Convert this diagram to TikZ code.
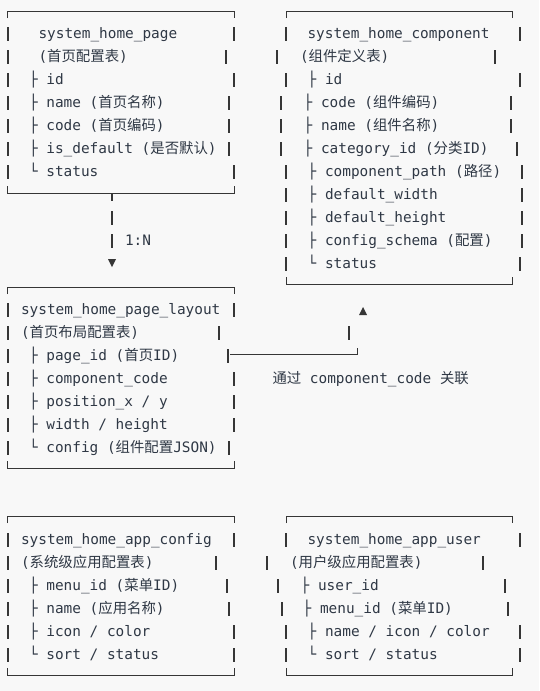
\documentclass[tikz,border=0pt]{standalone}
\usepackage{fontspec}
\usepackage{xcolor}
\usepackage{tikz}
\usetikzlibrary{arrows.meta, positioning, calc}
\setmonofont{DejaVu Sans Mono}
\newfontfamily\zhfont{Noto Sans CJK SC}
\newcommand{\zh}[1]{{\zhfont #1}}
\definecolor{paper}{HTML}{F8F8F8}
\definecolor{ink}{HTML}{2F3845}
\definecolor{rule}{HTML}{363636}

\tikzset{
  field/.style={anchor=base west, inner sep=0pt, outer sep=0pt, text=ink},
  frame/.style={rule, line width=0.9pt},
  bar/.style={rule, line width=1.2pt},
}

\begin{document}
\begin{tikzpicture}[x=1pt, y=-1pt, font=\ttfamily\fontsize{14.4}{17}\selectfont]
  \fill[paper] (0,0) rectangle (539,691);
  \useasboundingbox (0,0) rectangle (539,691);

  % system_home_page
  \draw[frame] (7,18) |- (234,11) -- (234,18);
  \draw[frame] (7,186) |- (234,193) -- (234,186);
  \node[field] (hp-name) at (38.5,38) {system\_home\_page};
  \node[field] (hp-cn) at (38.5,61) {(\zh{首页配置表})};
  \node[field] (hp-id) at (29,84) {├ id};
  \node[field] (hp-nm) at (29,107) {├ name (\zh{首页名称})};
  \node[field] (hp-code) at (29,130) {├ code (\zh{首页编码})};
  \node[field] (hp-def) at (29,153) {├ is\_default (\zh{是否默认})};
  \node[field] (hp-st) at (29,176) {└ status};

  % system_home_component
  \draw[frame] (286,18) |- (512,11) -- (512,18);
  \draw[frame] (286,277) |- (512,284) -- (512,277);
  \node[field] (hc-name) at (307.5,38) {system\_home\_component};
  \node[field] (hc-cn) at (300,61) {(\zh{组件定义表})};
  \node[field] (hc-id) at (307.7,84) {├ id};
  \node[field] (hc-code) at (303.7,107) {├ code (\zh{组件编码})};
  \node[field] (hc-nm) at (303.7,130) {├ name (\zh{组件名称})};
  \node[field] (hc-cat) at (303.7,153) {├ category\_id (\zh{分类}ID)};
  \node[field] (hc-path) at (307.7,176) {├ component\_path (\zh{路径})};
  \node[field] (hc-w) at (307.7,199) {├ default\_width};
  \node[field] (hc-h) at (307.7,222) {├ default\_height};
  \node[field] (hc-cfg) at (307.7,245) {├ config\_schema (\zh{配置})};
  \node[field] (hc-st) at (307.7,268) {└ status};

  % system_home_page_layout
  \draw[frame] (7,294) |- (234,287) -- (234,294);
  \draw[frame] (7,461) |- (234,468) -- (234,461);
  \node[field] (lay-name) at (21,314) {system\_home\_page\_layout};
  \node[field] (lay-cn) at (21,337) {(\zh{首页布局配置表})};
  \node[field] (lay-pid) at (29,360) {├ page\_id (\zh{首页}ID)};
  \node[field] (lay-cc) at (29,383) {├ component\_code};
  \node[field] (lay-pos) at (29,406) {├ position\_x / y};
  \node[field] (lay-wh) at (29,429) {├ width / height};
  \node[field] (lay-cfg) at (29,452) {└ config (\zh{组件配置}JSON)};

  % system_home_app_config
  \draw[frame] (7,523) |- (234,516) -- (234,523);
  \draw[frame] (7,668) |- (234,675) -- (234,668);
  \node[field] (ac-name) at (21,544) {system\_home\_app\_config};
  \node[field] (ac-cn) at (21,567) {(\zh{系统级应用配置表})};
  \node[field] (ac-menu) at (29,590) {├ menu\_id (\zh{菜单}ID)};
  \node[field] (ac-nm) at (29,613) {├ name (\zh{应用名称})};
  \node[field] (ac-ic) at (29,636) {├ icon / color};
  \node[field] (ac-st) at (29,659) {└ sort / status};

  % system_home_app_user
  \draw[frame] (286,523) |- (512,516) -- (512,523);
  \draw[frame] (286,668) |- (512,675) -- (512,668);
  \node[field] (au-name) at (307.5,544) {system\_home\_app\_user};
  \node[field] (au-cn) at (290,567) {(\zh{用户级应用配置表})};
  \node[field] (au-uid) at (300.7,590) {├ user\_id};
  \node[field] (au-menu) at (302.7,613) {├ menu\_id (\zh{菜单}ID)};
  \node[field] (au-nic) at (307.7,636) {├ name / icon / color};
  \node[field] (au-st) at (307.7,659) {└ sort / status};

  % 竖线（错位照原样）
  \foreach \x/\y in {8/33,234/33, 8/56,226/56, 8/79,234/79, 8/102,229/102,
      8/125,229/125, 8/148,229/148, 8/171,234/171,
      286/33,520/33, 277/56,495/56, 286/79,520/79, 281/102,511/102,
      281/125,511/125, 281/148,517/148, 286/171,522/171, 286/194,522/194,
      286/217,522/217, 286/240,522/240, 286/263,520/263,
      8/309,234/309, 8/332,219/332, 8/355,228/355, 8/378,234/378,
      8/401,234/401, 8/424,234/424, 8/447,229/447,
      8/539,234/539, 8/562,216/562, 8/585,227/585, 8/608,229/608,
      8/631,234/631, 8/654,234/654,
      286/539,520/539, 267/562,483/562, 278/585,505/585, 282/608,508/608,
      286/631,520/631, 286/654,520/654}
    \draw[bar] (\x,\y) ++(0,-6) -- ++(0,14);

  % 1:N
  \coordinate (hp-s) at (112,193);
  \coordinate (lay-n) at (112,287);
  \draw[bar, dash pattern=on 8pt off 10pt on 14pt off 9pt on 14pt] (hp-s) -- ($(lay-n)+(0,-39)$);
  \fill[rule] ($(lay-n)+(-4,-28)$) -- ++(8,0) -- ++(-4,8) -- cycle;
  \node[field] (card) at (125,245) {1:N};

  % component_code 关联
  \coordinate (lay-e) at (230,354);
  \coordinate (hc-s) at (363,284);
  \draw[frame] (lay-e) -- (357,354) -- (357,348);
  \draw[bar] (349,326) -- (349,340);
  \fill[rule] ($(hc-s)+(0,23)$) -- ++(4,8) -- ++(-8,0) -- cycle;
  \node[field] (via) at (272.5,383) {\zh{通过} component\_code \zh{关联}};
\end{tikzpicture}
\end{document}
